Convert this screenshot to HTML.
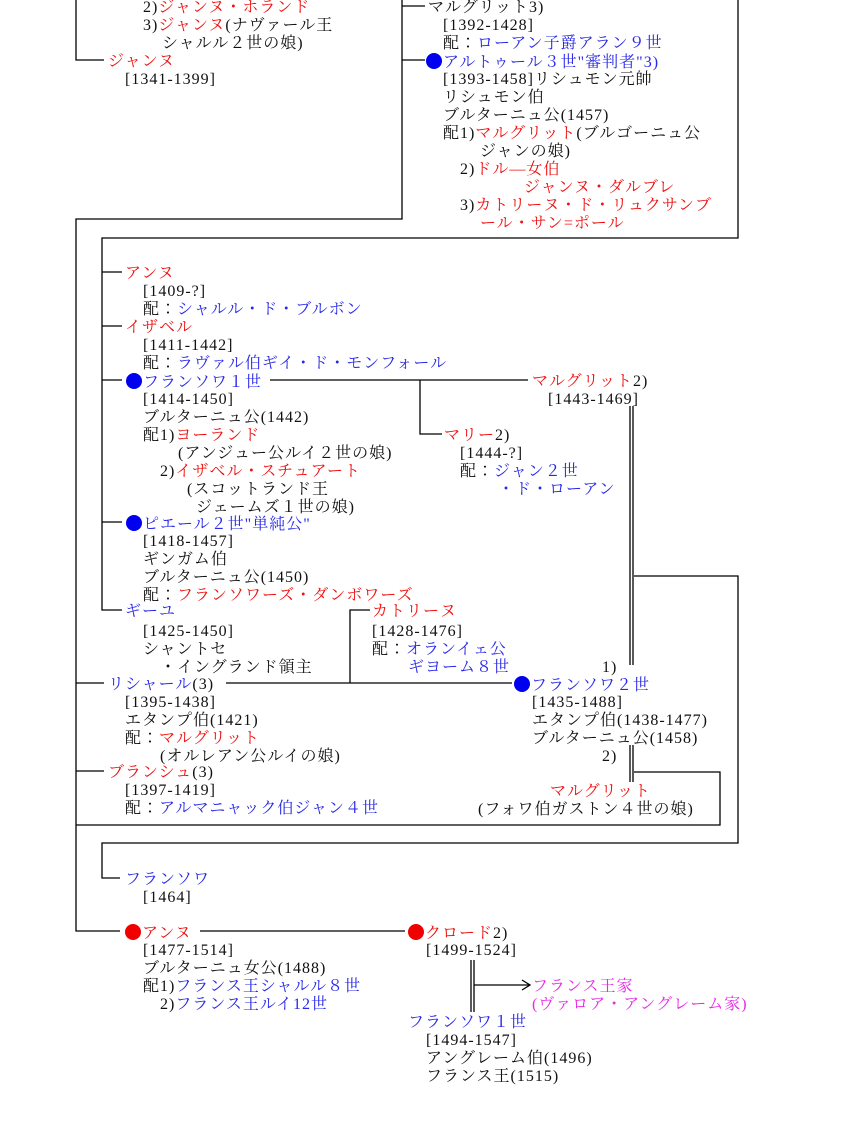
<!DOCTYPE html>
<html><head><meta charset="utf-8"><style>
body{margin:0;background:#fff;width:860px;height:1130px;position:relative;overflow:hidden}
.t{position:absolute;white-space:pre;font-family:"Liberation Serif","Noto Serif CJK JP",serif;font-size:16px;line-height:18px;letter-spacing:1px;color:#111;margin-top:2px}
.r{color:#f01010}.b{color:#2828e8}.m{color:#e828e8}
.d,.dr{display:inline-block;width:16px;height:16px;border-radius:50%;background:#0000f0;vertical-align:-2px;margin-right:1px}
.dr{background:#f00000}
svg{position:absolute;left:0;top:0}
</style></head><body>
<svg width="860" height="1130" stroke="#000" stroke-width="1.3" fill="none">
<path d="M76 0V60H104"/>
<path d="M402 0V219H76V931H120"/>
<path d="M402 6H425M402 60H425"/>
<path d="M738 0V238H102V610H122"/>
<path d="M102 272H122M102 326H122M102 380H122M102 522H122"/>
<path d="M76 683H104M76 771H104"/>
<path d="M270 380H528M420 380V434H442"/>
<path d="M226 683H512M350 683V610H370"/>
<path d="M630 406V665M633 406V665M630 745V782M633 745V782"/>
<path d="M634 576H738V843H102V878H120"/>
<path d="M634 772H720V825H76"/>
<path d="M200 931H405"/>
<path d="M471 960V1012M474 960V1012M474 985H530M522 980L530 985L522 990"/>
</svg>

<div class="t" style="left:143px;top:-3px">2)<span class="r">ジャンヌ・ホランド</span></div>
<div class="t" style="left:143px;top:15px">3)<span class="r">ジャンヌ</span>(ナヴァール王</div>
<div class="t" style="left:162px;top:33px">シャルル２世の娘)</div>
<div class="t r" style="left:108px;top:51px">ジャンヌ</div>
<div class="t" style="left:125px;top:69px">[1341-1399]</div>

<div class="t" style="left:428px;top:-3px">マルグリット3)</div>
<div class="t" style="left:443px;top:15px">[1392-1428]</div>
<div class="t" style="left:443px;top:33px">配：<span class="b">ローアン子爵アラン９世</span></div>
<div class="t" style="left:426px;top:51px"><span class="d"></span><span class="b">アルトゥール３世"審判者"3)</span></div>
<div class="t" style="left:443px;top:69px">[1393-1458]リシュモン元帥</div>
<div class="t" style="left:443px;top:87px">リシュモン伯</div>
<div class="t" style="left:443px;top:105px">ブルターニュ公(1457)</div>
<div class="t" style="left:443px;top:123px">配1)<span class="r">マルグリット</span>(ブルゴーニュ公</div>
<div class="t" style="left:480px;top:141px">ジャンの娘)</div>
<div class="t" style="left:460px;top:159px">2)<span class="r">ドル―女伯</span></div>
<div class="t r" style="left:524px;top:177px">ジャンヌ・ダルブレ</div>
<div class="t" style="left:460px;top:195px">3)<span class="r">カトリーヌ・ド・リュクサンブ</span></div>
<div class="t r" style="left:480px;top:213px">ール・サン=ポール</div>

<div class="t r" style="left:125px;top:263px">アンヌ</div>
<div class="t" style="left:143px;top:281px">[1409-?]</div>
<div class="t" style="left:143px;top:299px">配：<span class="b">シャルル・ド・ブルボン</span></div>
<div class="t r" style="left:125px;top:317px">イザベル</div>
<div class="t" style="left:143px;top:335px">[1411-1442]</div>
<div class="t" style="left:143px;top:353px">配：<span class="b">ラヴァル伯ギイ・ド・モンフォール</span></div>
<div class="t" style="left:126px;top:371px"><span class="d"></span><span class="b">フランソワ１世</span></div>
<div class="t" style="left:143px;top:389px">[1414-1450]</div>
<div class="t" style="left:143px;top:407px">ブルターニュ公(1442)</div>
<div class="t" style="left:143px;top:425px">配1)<span class="r">ヨーランド</span></div>
<div class="t" style="left:178px;top:443px">(アンジュー公ルイ２世の娘)</div>
<div class="t" style="left:160px;top:461px">2)<span class="r">イザベル・スチュアート</span></div>
<div class="t" style="left:187px;top:479px">(スコットランド王</div>
<div class="t" style="left:196px;top:497px">ジェームズ１世の娘)</div>
<div class="t" style="left:126px;top:513px"><span class="d"></span><span class="b">ピエール２世"単純公"</span></div>
<div class="t" style="left:143px;top:531px">[1418-1457]</div>
<div class="t" style="left:143px;top:549px">ギンガム伯</div>
<div class="t" style="left:143px;top:567px">ブルターニュ公(1450)</div>
<div class="t" style="left:143px;top:585px">配：<span class="r">フランソワーズ・ダンボワーズ</span></div>
<div class="t b" style="left:125px;top:601px">ギーユ</div>
<div class="t" style="left:143px;top:621px">[1425-1450]</div>
<div class="t" style="left:143px;top:639px">シャントセ</div>
<div class="t" style="left:160px;top:657px">・イングランド領主</div>
<div class="t" style="left:108px;top:674px"><span class="b">リシャール</span>(3)</div>
<div class="t" style="left:125px;top:692px">[1395-1438]</div>
<div class="t" style="left:125px;top:710px">エタンプ伯(1421)</div>
<div class="t" style="left:125px;top:728px">配：<span class="r">マルグリット</span></div>
<div class="t" style="left:160px;top:746px">(オルレアン公ルイの娘)</div>
<div class="t" style="left:108px;top:762px"><span class="r">ブランシュ</span>(3)</div>
<div class="t" style="left:125px;top:780px">[1397-1419]</div>
<div class="t" style="left:125px;top:798px">配：<span class="b">アルマニャック伯ジャン４世</span></div>

<div class="t" style="left:532px;top:371px"><span class="r">マルグリット</span>2)</div>
<div class="t" style="left:548px;top:389px">[1443-1469]</div>
<div class="t" style="left:444px;top:425px"><span class="r">マリー</span>2)</div>
<div class="t" style="left:460px;top:443px">[1444-?]</div>
<div class="t" style="left:460px;top:461px">配：<span class="b">ジャン２世</span></div>
<div class="t b" style="left:498px;top:479px">・ド・ローアン</div>
<div class="t r" style="left:372px;top:601px">カトリーヌ</div>
<div class="t" style="left:372px;top:621px">[1428-1476]</div>
<div class="t" style="left:372px;top:639px">配：<span class="b">オランイェ公</span></div>
<div class="t b" style="left:408px;top:657px">ギヨーム８世</div>
<div class="t" style="left:602px;top:657px">1)</div>
<div class="t" style="left:514px;top:674px"><span class="d"></span><span class="b">フランソワ２世</span></div>
<div class="t" style="left:532px;top:692px">[1435-1488]</div>
<div class="t" style="left:532px;top:710px">エタンプ伯(1438-1477)</div>
<div class="t" style="left:532px;top:728px">ブルターニュ公(1458)</div>
<div class="t" style="left:602px;top:746px">2)</div>
<div class="t r" style="left:550px;top:781px">マルグリット</div>
<div class="t" style="left:478px;top:799px">(フォワ伯ガストン４世の娘)</div>

<div class="t b" style="left:125px;top:869px">フランソワ</div>
<div class="t" style="left:143px;top:887px">[1464]</div>
<div class="t" style="left:125px;top:922px"><span class="dr"></span><span class="r">アンヌ</span></div>
<div class="t" style="left:143px;top:940px">[1477-1514]</div>
<div class="t" style="left:143px;top:958px">ブルターニュ女公(1488)</div>
<div class="t" style="left:143px;top:976px">配1)<span class="b">フランス王シャルル８世</span></div>
<div class="t" style="left:160px;top:994px">2)<span class="b">フランス王ルイ12世</span></div>
<div class="t" style="left:408px;top:922px"><span class="dr"></span><span class="r">クロード</span>2)</div>
<div class="t" style="left:426px;top:940px">[1499-1524]</div>
<div class="t m" style="left:532px;top:976px">フランス王家</div>
<div class="t m" style="left:532px;top:994px">(ヴァロア・アングレーム家)</div>
<div class="t b" style="left:408px;top:1012px">フランソワ１世</div>
<div class="t" style="left:426px;top:1030px">[1494-1547]</div>
<div class="t" style="left:426px;top:1048px">アングレーム伯(1496)</div>
<div class="t" style="left:426px;top:1066px">フランス王(1515)</div>
</body></html>
